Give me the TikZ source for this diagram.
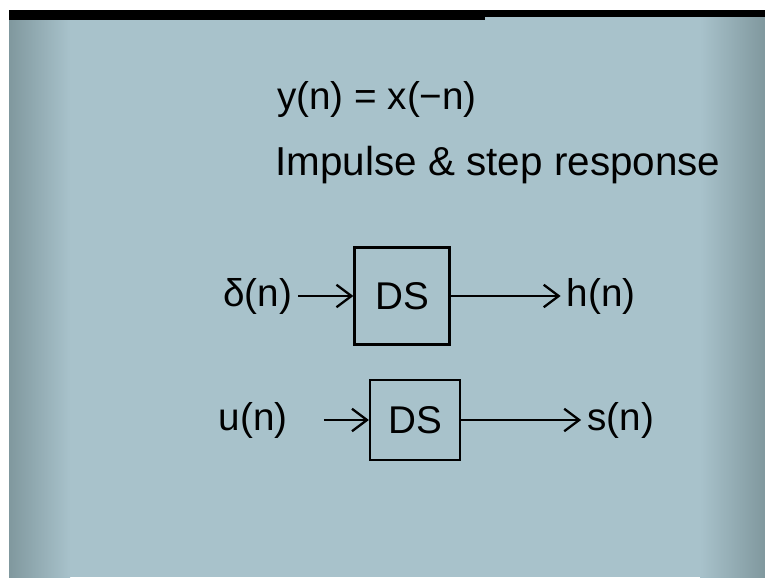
\documentclass[tikz,border=0pt]{standalone}
\usepackage{fontspec}
\setmainfont{Liberation Sans}
\usepackage{xcolor}
\usetikzlibrary{arrows.meta,positioning}
\definecolor{board}{RGB}{168,194,203}
\definecolor{boardedge}{RGB}{128,152,158}

\begin{document}
\begin{tikzpicture}[
		x=0.02cm, y=-0.02cm,
		font=\fontsize{22}{26}\selectfont,
		>={Straight Barb[length=3mm,width=4.5mm]},
		dsbox/.style={draw, line width=1.3pt, minimum width=1.9cm, minimum height=1.94cm, font=\fontsize{22}{24}\selectfont},
		signal/.style={->, line width=1.3pt}
		]
		% slide
		\useasboundingbox (0,0) rectangle (765,582);
		\fill[white] (0,0) rectangle (765,582);
		\fill[board] (9,10) rectangle (765,577);
		\shade[left color=boardedge, right color=board] (9,10) rectangle (70,577);
		\shade[left color=board, right color=boardedge] (700,10) rectangle (765,577);
		\fill[black] (9,10) rectangle (485,20);
		\fill[black] (485,10) rectangle (765,17);
		
		\node (eq) at (377,100) {y(n) = x(−n)};
		\node[font=\fontsize{23}{27}\selectfont] (title) at (498,165) {Impulse \& step response};
		
		% impulse response
		\node[dsbox] (ds1) at (402,296) {DS};
		\node[left=1.1cm of ds1] (delta) {δ(n)};
		\node[right=2.2cm of ds1] (h) {h(n)};
		
		% step response
		\node[dsbox, minimum width=1.8cm, minimum height=1.6cm] (ds2) at (415,420) {DS};
		\node[left=1.5cm of ds2] (u) {u(n)};
		\node[right=2.4cm of ds2] (s) {s(n)};
		
		\draw[signal] (delta) -- (ds1);
		\draw[signal] (ds1) -- (h);
		\draw[signal, shorten <=6mm] (u) -- (ds2);
		\draw[signal] (ds2) -- (s);
	\end{tikzpicture}
\end{document}
